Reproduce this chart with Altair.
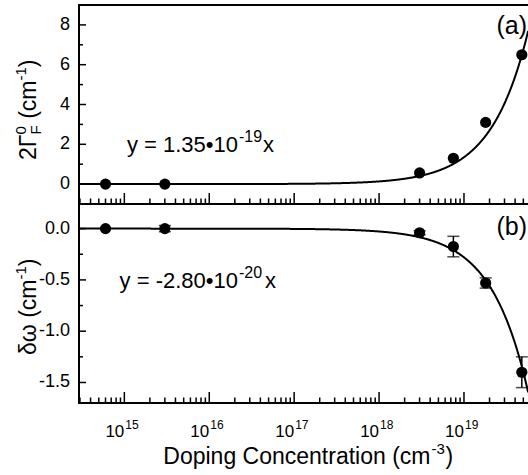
import altair as alt
import pandas as pd

# ---------------- data ----------------
conc = [6e14, 3e15, 3e18, 7.5e18, 1.8e19, 4.8e19]        # doping concentration (cm^-3)
gamma = [0.0, 0.0, 0.56, 1.3, 3.1, 6.5]                  # 2Gamma_F^0 (cm^-1)
shift = [0.0, 0.0, -0.04, -0.175, -0.53, -1.40]          # delta omega (cm^-1)
shift_err = [0.0, 0.03, 0.02, 0.10, 0.05, 0.15]
fit_gamma = 1.35e-19
fit_shift = -2.80e-20

x_exp_min, x_exp_max = 14.466, 19.754
x_major = [1e15, 1e16, 1e17, 1e18, 1e19]
x_major_exp = ["15", "16", "17", "18", "19"]
x_minor = [m * 10 ** e for e in range(14, 20) for m in range(2, 10)
           if 10 ** x_exp_min <= m * 10 ** e <= 10 ** x_exp_max]

top_major = [0, 2, 4, 6, 8]
top_labels = ["0", "2", "4", "6", "8"]
top_minor = [1, 3, 5, 7]
bot_major = [0.0, -0.5, -1.0, -1.5]
bot_labels = ["0.0", "-0.5", "-1.0", "-1.5"]
bot_minor = [-0.25, -0.75, -1.25]

# ---------------- layout ----------------
FONT = "Liberation Sans"
W, H = 449, 398
PH = 199  # height of one panel

xs = alt.Scale(type="log", domain=[10 ** x_exp_min, 10 ** x_exp_max], nice=False)
ytop = alt.Scale(domain=[-1, 9], range=[PH, 0], nice=False, zero=False)
ybot = alt.Scale(domain=[-1.7, 0.24], range=[H, PH], nice=False, zero=False)

pts = pd.DataFrame({"conc": conc, "gamma": gamma, "shift": shift, "err": shift_err})
pts["lo"] = pts["shift"] - pts["err"]
pts["hi"] = pts["shift"] + pts["err"]
one = pd.DataFrame({"k": [0]})

X = alt.X("conc:Q", scale=xs, axis=None)
layers = []

# fit curves
fit = alt.Chart(alt.sequence(x_exp_min, x_exp_max + 0.005, 0.005, as_="e")).transform_calculate(
    conc="pow(10, datum.e)",
    g=f"{fit_gamma} * pow(10, datum.e)",
    s=f"{fit_shift} * pow(10, datum.e)",
)
layers.append(fit.mark_line(color="black", strokeWidth=2, clip=True).encode(
    x=X, y=alt.Y("g:Q", scale=ytop, axis=None)))
layers.append(fit.mark_line(color="black", strokeWidth=2, clip=True).encode(
    x=X, y=alt.Y("s:Q", scale=ybot, axis=None)))

# error bars (bottom panel)
eb = alt.Chart(pts).transform_filter("datum.err > 0")
layers.append(eb.mark_rule(color="black", strokeWidth=1.5).encode(
    x=X, y=alt.Y("lo:Q", scale=ybot, axis=None), y2="hi:Q"))
layers.append(eb.mark_tick(orient="horizontal", size=12, thickness=1.5, color="black").encode(
    x=X, y=alt.Y("lo:Q", scale=ybot, axis=None)))
layers.append(eb.mark_tick(orient="horizontal", size=12, thickness=1.5, color="black").encode(
    x=X, y=alt.Y("hi:Q", scale=ybot, axis=None)))

# data points
layers.append(alt.Chart(pts).mark_point(filled=True, shape="circle", size=125, color="black", opacity=1).encode(
    x=X, y=alt.Y("gamma:Q", scale=ytop, axis=None)))
layers.append(alt.Chart(pts).mark_point(filled=True, shape="circle", size=125, color="black", opacity=1).encode(
    x=X, y=alt.Y("shift:Q", scale=ybot, axis=None)))

# frame
def hline(y):
    return alt.Chart(one).mark_rule(color="black", strokeWidth=2).encode(
        x=alt.value(0), x2=alt.value(W), y=alt.value(y))
layers += [hline(0), hline(PH), hline(H)]
layers.append(alt.Chart(one).mark_rule(color="black", strokeWidth=2, strokeCap="square").encode(
    x=alt.value(0), y=alt.value(0), y2=alt.value(H)))

# x ticks (inward)
xmaj = pd.DataFrame({"v": x_major, "e": x_major_exp})
xmin = pd.DataFrame({"v": x_minor})
for yb in (PH, H):
    layers.append(alt.Chart(xmaj).mark_rule(color="black", strokeWidth=1.5).encode(
        x=alt.X("v:Q", scale=xs, axis=None), y=alt.value(yb), y2=alt.value(yb - 11)))
    layers.append(alt.Chart(xmin).mark_rule(color="black", strokeWidth=1.5).encode(
        x=alt.X("v:Q", scale=xs, axis=None), y=alt.value(yb), y2=alt.value(yb - 5.5)))

# x tick labels 10^n
layers.append(alt.Chart(xmaj).mark_text(text="10", font=FONT, fontSize=17, align="right",
                                        baseline="alphabetic", color="black").encode(
    x=alt.X("v:Q", scale=xs, axis=None), y=alt.value(H + 34)))
layers.append(alt.Chart(xmaj).mark_text(font=FONT, fontSize=12, align="left", dx=1,
                                        baseline="alphabetic", color="black").encode(
    x=alt.X("v:Q", scale=xs, axis=None), y=alt.value(H + 26), text="e:N"))

# y ticks (inward) and labels
for maj, labs, mn, sc in ((top_major, top_labels, top_minor, ytop),
                          (bot_major, bot_labels, bot_minor, ybot)):
    dmaj = pd.DataFrame({"v": maj, "lab": labs})
    dmin = pd.DataFrame({"v": mn})
    layers.append(alt.Chart(dmaj).mark_rule(color="black", strokeWidth=1.5).encode(
        y=alt.Y("v:Q", scale=sc, axis=None), x=alt.value(0), x2=alt.value(7)))
    layers.append(alt.Chart(dmin).mark_rule(color="black", strokeWidth=1.5).encode(
        y=alt.Y("v:Q", scale=sc, axis=None), x=alt.value(0), x2=alt.value(4)))
    layers.append(alt.Chart(dmaj).mark_text(font=FONT, fontSize=18, align="right", baseline="middle",
                                            color="black").encode(
        y=alt.Y("v:Q", scale=sc, axis=None), x=alt.value(-9), text="lab:N"))


def txt(s, x, y, size, align="left", angle=0):
    kw = dict(text=s, font=FONT, fontSize=size, align=align, baseline="alphabetic", color="black")
    if angle:
        kw["angle"] = angle
    return alt.Chart(one).mark_text(**kw).encode(x=alt.value(x), y=alt.value(y))


# annotations
layers += [
    txt("y = 1.35\u202210", 159, 147, 22, align="right"),
    txt("-19", 160, 137, 16),
    txt("x", 184, 147, 22),
    txt("y = -2.80\u202210", 159, 283, 22, align="right"),
    txt("-20", 160, 273, 16),
    txt("x", 186, 283, 22),
    txt("(a)", 448, 29, 25, align="right"),
    txt("(b)", 448, 230, 25, align="right"),
]

# x title
layers += [
    txt("Doping Concentration (cm", 351.5, 459, 23, align="right"),
    txt("-3", 352.5, 449, 15),
    txt(")", 366.5, 459, 23),
]

# y titles (rotated, composed of pieces)
BX = -43
layers += [
    txt("2\u0393", BX, 155, 23, angle=270),
    txt("F", BX + 5, 129.4, 15, angle=270),
    txt("0", BX - 10, 129.4, 15, angle=270),
    txt("(cm", BX, 113.8, 23, angle=270),
    txt("-1", BX - 10, 75.5, 15, angle=270),
    txt(")", BX, 62.2, 23, angle=270),
    txt("\u03b4\u03c9", BX, 350, 23, angle=270),
    txt("(cm", BX, 312.8, 23, angle=270),
    txt("-1", BX - 10, 274.5, 15, angle=270),
    txt(")", BX, 261.2, 23, angle=270),
]

chart = alt.layer(*layers).resolve_scale(y="independent").properties(
    width=W, height=H,
    autosize=alt.AutoSizeParams(type="none"),
    padding={"left": 79, "top": 5, "right": 0, "bottom": 72},
).configure_view(stroke=None)

chart.save("out.html", embed_options={"renderer": "svg", "actions": False})
